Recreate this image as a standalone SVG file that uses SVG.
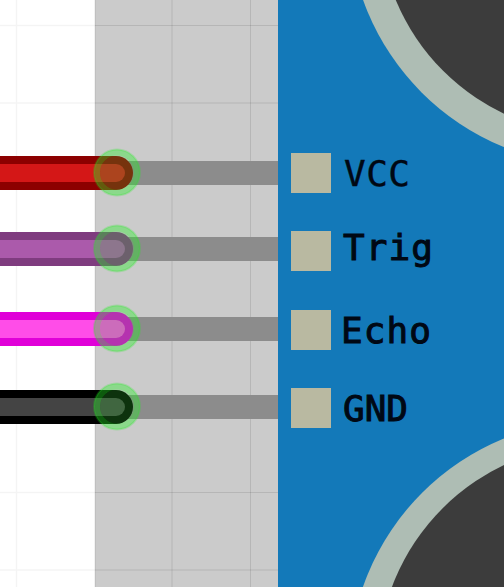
<svg xmlns="http://www.w3.org/2000/svg" width="504" height="587" viewBox="0 0 504 587">
<style>
.grid{stroke:#000;stroke-opacity:.045;stroke-width:1.5;fill:none}
.grid2{stroke:#000;stroke-opacity:.1;stroke-width:1;fill:none}
.track{fill:#8c8c8c}
.pad{fill:#b9b9a1}
.tint{fill:#33cc33;fill-opacity:.25}
.halo{fill:none;stroke:#22ee22;stroke-opacity:.38;stroke-width:6}
.halo2{fill:none;stroke:#22ee22;stroke-opacity:.22;stroke-width:2}
text{font-family:"DejaVu Sans Mono",monospace;font-size:36px;fill:#000814;stroke:#000814;stroke-width:1}
.thin{stroke-width:.4}
.ring{fill:#aebdb4}.hole{fill:#3c3c3c}
</style>
<rect width="504" height="587" fill="#fff"/>
<rect x="95" y="0" width="183" height="587" fill="#cbcbcb"/>
<rect x="278" y="0" width="226" height="587" fill="#1379b9"/>
<g id="grid">
<path class="grid" d="M16.500 0V587M0 25.500H95M0 103H95M0 492.500H95M0 570H95"/>
<path class="grid2" d="M95 0V587M172 0V587M250.500 0V587M95 25.500H278M95 103H278M95 181H278M95 259H278M95 337H278M95 415H278M95 492.500H278M95 570H278"/>
</g>
<g id="hole-top"><circle class="ring" cx="598" cy="-84" r="249.500"/><circle class="hole" cx="598" cy="-84" r="219"/></g>
<g id="hole-bottom"><circle class="ring" cx="598" cy="669" r="249"/><circle class="hole" cx="598" cy="664" r="220"/></g>
<g id="connectors">
<rect class="track" x="116" y="161" width="162" height="24"/>
<rect class="track" x="116" y="237" width="162" height="24"/>
<rect class="track" x="116" y="317" width="162" height="24"/>
<rect class="track" x="116" y="395" width="162" height="24"/>
<g id="wire-vcc"><path d="M-5 173H116" stroke="#8c0000" stroke-width="34" stroke-linecap="round"/><path d="M-5 173H116" stroke="#d41717" stroke-width="18" stroke-linecap="round"/></g>
<g id="wire-trig"><path d="M-5 249H116" stroke="#7f3c7f" stroke-width="34" stroke-linecap="round"/><path d="M-5 249H116" stroke="#ab5aab" stroke-width="18" stroke-linecap="round"/></g>
<g id="wire-echo"><path d="M-5 329H116" stroke="#e000d8" stroke-width="34" stroke-linecap="round"/><path d="M-5 329H116" stroke="#ff4de8" stroke-width="18" stroke-linecap="round"/></g>
<g id="wire-gnd"><path d="M-5 407H116" stroke="#000" stroke-width="34" stroke-linecap="round"/><path d="M-5 407H116" stroke="#444" stroke-width="18" stroke-linecap="round"/></g>
</g>
<g id="pin-vcc"><circle class="tint" cx="117" cy="172.500" r="17"/><circle class="halo" cx="117" cy="172.500" r="20"/><circle class="halo2" cx="117" cy="172.500" r="23"/><rect class="pad" x="291" y="153" width="40" height="40"/><text class="thin" x="344" y="186" textLength="66">VCC</text></g>
<g id="pin-trig"><circle class="tint" cx="117" cy="248.500" r="17"/><circle class="halo" cx="117" cy="248.500" r="20"/><circle class="halo2" cx="117" cy="248.500" r="23"/><rect class="pad" x="291" y="231" width="40" height="40"/><text x="343" y="260" textLength="90">Trig</text></g>
<g id="pin-echo"><circle class="tint" cx="117" cy="328.500" r="17"/><circle class="halo" cx="117" cy="328.500" r="20"/><circle class="halo2" cx="117" cy="328.500" r="23"/><rect class="pad" x="291" y="310" width="40" height="40"/><text x="341" y="343" textLength="90">Echo</text></g>
<g id="pin-gnd"><circle class="tint" cx="117" cy="406.500" r="17"/><circle class="halo" cx="117" cy="406.500" r="20"/><circle class="halo2" cx="117" cy="406.500" r="23"/><rect class="pad" x="291" y="388" width="40" height="40"/><text x="343" y="421" textLength="65">GND</text></g>
</svg>
